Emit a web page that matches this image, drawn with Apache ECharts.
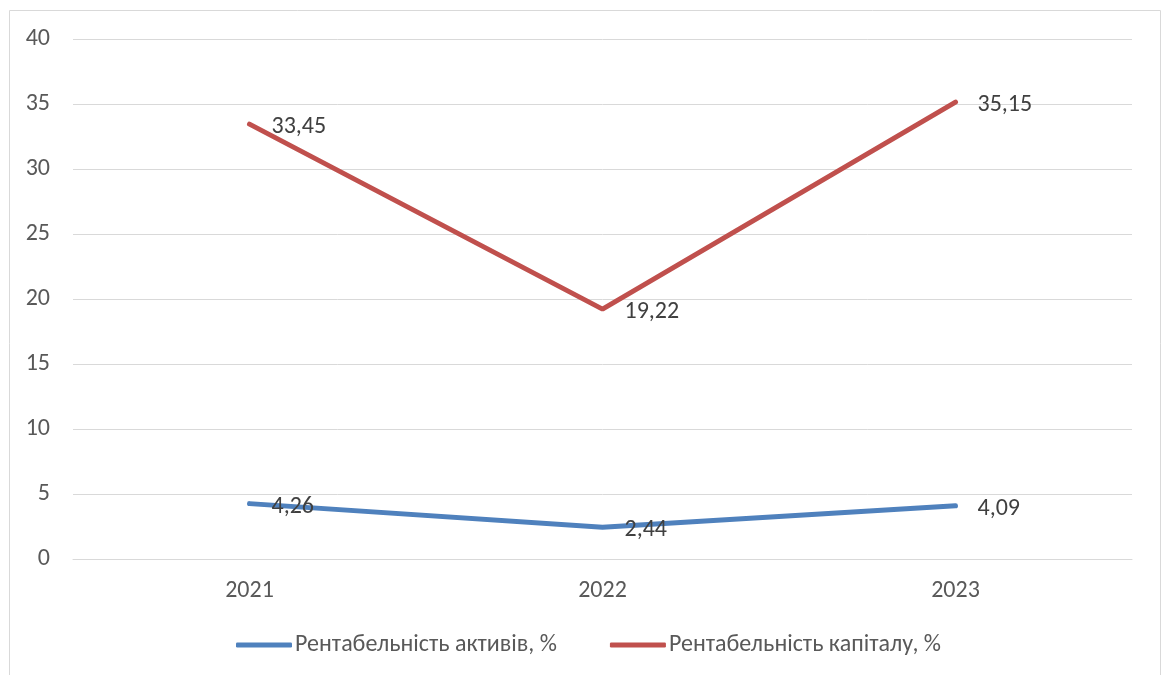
<!DOCTYPE html>
<html><head><meta charset="utf-8">
<script src="https://cdn.jsdelivr.net/npm/echarts@6/dist/echarts.min.js"></script>
<style>html,body{margin:0;padding:0;background:#fff}#c{width:1165px;height:675px}</style>
</head><body><div id="c"></div>
<script>
const categories = ['2021', '2022', '2023'];
const seriesNames = ['Рентабельність активів, %', 'Рентабельність капіталу, %'];
const assetsReturn = [4.26, 2.44, 4.09];
const equityReturn = [33.45, 19.22, 35.15];
const yTicks = { min: 0, max: 40, interval: 5 };

const FONT = 'Carlito, "Open Sans", sans-serif';
const chart = echarts.init(document.getElementById('c'));
const fmt = p => String(p.value).replace('.', ',');
chart.setOption({
  animation: false,
  textStyle: { fontFamily: FONT },
  graphic: [{ type: 'rect', shape: { x: 9.5, y: 10.5, width: 1151, height: 700 }, style: { fill: 'none', stroke: '#d9d9d9', lineWidth: 1 }, silent: true }],
  grid: { left: 73, right: 33, top: 39, bottom: 116 },
  xAxis: { type: 'category', data: categories, boundaryGap: true,
    axisLine: { lineStyle: { color: '#d9d9d9', width: 1 } }, axisTick: { show: false },
    axisLabel: { color: '#595959', fontSize: 24, margin: 20, fontFamily: FONT } },
  yAxis: { type: 'value', min: yTicks.min, max: yTicks.max, interval: yTicks.interval,
    axisLine: { show: false }, axisTick: { show: false },
    splitLine: { lineStyle: { color: '#d9d9d9', width: 1 } },
    axisLabel: { color: '#595959', fontSize: 24, margin: 23, fontFamily: FONT } },
  legend: { bottom: 13, left: 231, itemWidth: 56, itemHeight: 5, itemGap: 53, icon: 'roundRect',
    textStyle: { color: '#595959', fontSize: 24, fontFamily: FONT, padding: [0, 0, 0, -2] },
    data: seriesNames },
  series: [
    { name: seriesNames[0], type: 'line', data: assetsReturn, symbol: 'circle', symbolSize: 0, showSymbol: true, color: '#4f81bd',
      lineStyle: { width: 5, color: '#4f81bd', cap: 'round' },
      label: { show: true, position: 'right', distance: 22, offset: [0, 3], color: '#404040', fontSize: 24, fontFamily: FONT, formatter: fmt } },
    { name: seriesNames[1], type: 'line', data: equityReturn, symbol: 'circle', symbolSize: 0, showSymbol: true, color: '#c0504d',
      lineStyle: { width: 5, color: '#c0504d', cap: 'round' },
      label: { show: true, position: 'right', distance: 22, offset: [0, 3], color: '#404040', fontSize: 24, fontFamily: FONT, formatter: fmt } }
  ]
});
</script></body></html>
